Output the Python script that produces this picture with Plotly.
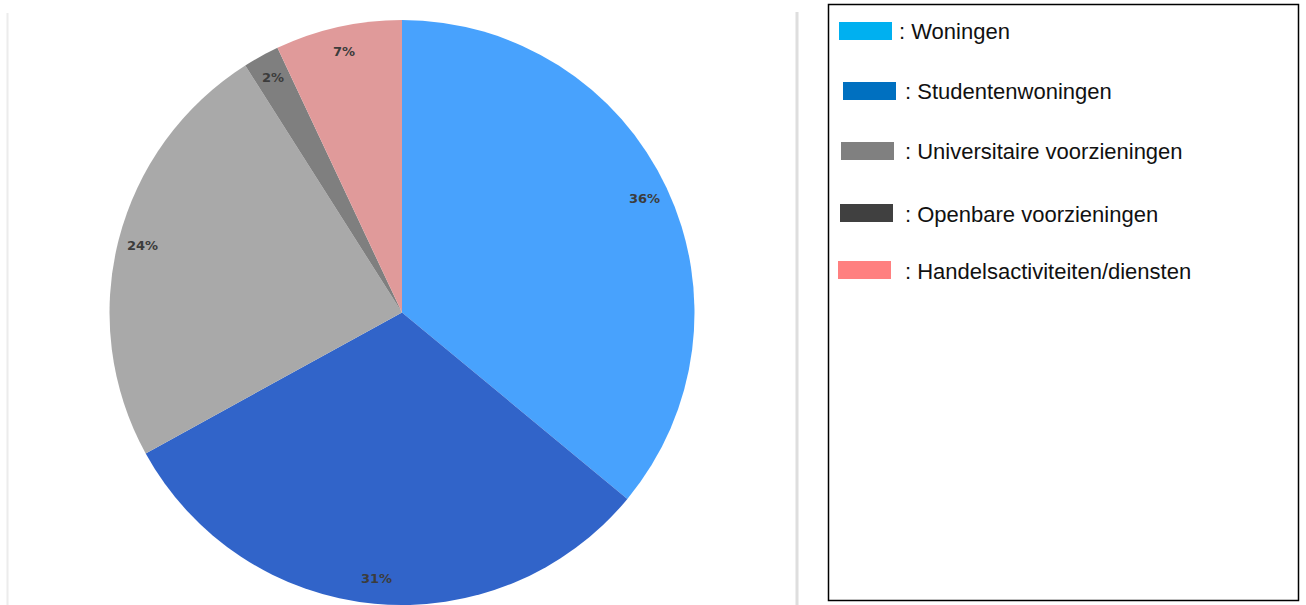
import math
import plotly.graph_objects as go

# ---- data ----
categories = ["Woningen", "Studentenwoningen", "Universitaire voorzieningen",
              "Openbare voorzieningen", "Handelsactiviteiten/diensten"]
values = [36, 31, 24, 2, 7]
slice_colors = ["#48a2fd", "#3164c9", "#a9a9a9", "#7f7f7f", "#e09a9a"]
legend_colors = ["#00b0f0", "#0070c0", "#808080", "#404040", "#ff8080"]

# ---- layout constants ----
W, H = 1306, 605
PIE_TOP = 20
PIE_CX = 402
R = (H - PIE_TOP) / 2
PIE_CY = PIE_TOP + R
LABEL_R = 0.915 * R


def px(x):
    return x / W


def py(y):
    return 1 - y / H


fig = go.Figure()
fig.add_trace(go.Pie(
    labels=categories,
    values=values,
    sort=False,
    direction="clockwise",
    rotation=0,
    marker=dict(colors=slice_colors, line=dict(width=0)),
    textinfo="none",
    hoverinfo="label+percent",
    showlegend=False,
    domain=dict(x=[px(PIE_CX - R), px(PIE_CX + R)], y=[0, py(PIE_TOP)]),
))

annotations = []
total = sum(values)
cum = 0
for v in values:
    mid = (cum + v / 2) / total
    cum += v
    th = 2 * math.pi * mid
    x = PIE_CX + LABEL_R * math.sin(th)
    y = PIE_CY - LABEL_R * math.cos(th)
    annotations.append(dict(
        x=px(x), y=py(y), xref="paper", yref="paper", showarrow=False,
        text=f"{round(100 * v / total)}%",
        font=dict(family="DejaVu Sans", size=13, color="#3c3c3c", weight="bold"),
        xanchor="center", yanchor="middle"))

shapes = [
    dict(type="line", xref="paper", yref="paper", x0=px(7.5), x1=px(7.5),
         y0=py(13), y1=0, line=dict(color="#ececec", width=2)),
    dict(type="line", xref="paper", yref="paper", x0=px(797), x1=px(797),
         y0=py(12), y1=0, line=dict(color="#dedede", width=3)),
    dict(type="rect", xref="paper", yref="paper", x0=px(828.5), x1=px(1298.5),
         y0=py(4.5), y1=py(600.5), line=dict(color="#000000", width=1.5)),
]

swatch_x = [839, 843, 841, 840, 838]
text_x = [897, 903, 903, 903, 903]
row_y = [31, 91, 151, 213, 270]
SW_W, SW_H = 53, 18
for i, (lab, col) in enumerate(zip(categories, legend_colors)):
    shapes.append(dict(type="rect", xref="paper", yref="paper",
                       x0=px(swatch_x[i]), x1=px(swatch_x[i] + SW_W),
                       y0=py(row_y[i] - SW_H / 2), y1=py(row_y[i] + SW_H / 2),
                       fillcolor=col, line=dict(width=0)))
    annotations.append(dict(
        x=px(text_x[i]), y=py(row_y[i] + 1), xref="paper", yref="paper",
        showarrow=False, text=": " + lab, xanchor="left", yanchor="middle",
        font=dict(family="Liberation Sans, Arial", size=22, color="#111111")))

fig.update_layout(
    width=W, height=H,
    margin=dict(l=0, r=0, t=0, b=0),
    paper_bgcolor="white", plot_bgcolor="white",
    shapes=shapes, annotations=annotations,
)

fig.write_html("out.html", config={"displayModeBar": False},
               post_script="document.body.style.margin='0';")
